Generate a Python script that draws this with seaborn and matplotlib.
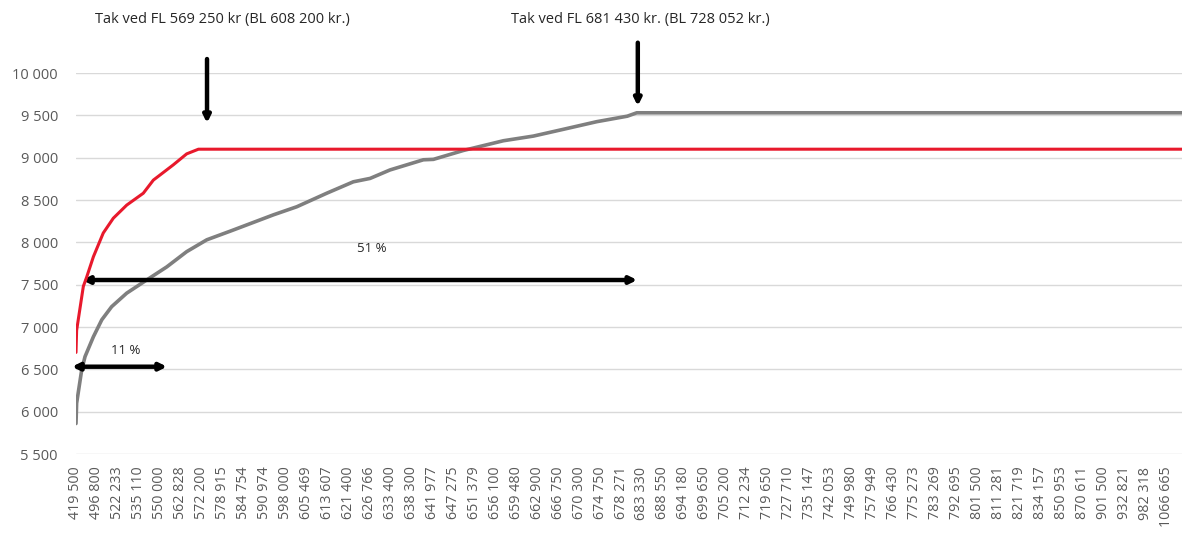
import pandas as pd
import matplotlib
matplotlib.use("Agg")
import matplotlib.pyplot as plt
import seaborn as sns

# Category labels on the x axis (income, every label shown)
x_labels = ["419 500", "496 800", "522 233", "535 110", "550 000", "562 828", "572 200",
	"578 915", "584 754", "590 974", "598 000", "605 469", "613 607", "621 400",
	"626 766", "633 400", "638 300", "641 977", "647 275", "651 379", "656 100",
	"659 480", "662 900", "666 750", "670 300", "674 750", "678 271", "683 330",
	"688 550", "694 180", "699 650", "705 200", "712 234", "719 650", "727 710",
	"735 147", "742 053", "749 980", "757 949", "766 430", "775 273", "783 269",
	"792 695", "801 500", "811 281", "821 719", "834 157", "850 953", "870 611",
	"901 500", "932 821", "982 318", "1066 665"]

# Red series (position along category axis, value)
red_pos = [0, 0.03, 0.35, 0.51, 0.83, 1.3, 1.78, 2.42, 3.21, 3.69, 4.64, 5.28, 5.84, 52.8]
red_val = [6700, 6960, 7480, 7590, 7830, 8110, 8285, 8440, 8580, 8735, 8915, 9045, 9100, 9100]

# Gray series
gray_pos = [0, 0.03, 0.27, 0.43, 0.83, 1.23, 1.7, 2.42, 3.37, 4.33, 5.28, 6.24, 7.39,
	9.42, 10.53, 11.96, 13.23, 14.03, 14.98, 16.57, 17.05, 18.48, 20.39, 21.82,
	23.25, 24.84, 26.3, 26.75, 52.8]
gray_val = [5860, 6100, 6490, 6650, 6885, 7085, 7240, 7400, 7555, 7710, 7890, 8030, 8135,
	8325, 8420, 8580, 8715, 8755, 8855, 8975, 8980, 9085, 9200, 9255,
	9335, 9425, 9490, 9530, 9530]

y_ticks = [5500, 6000, 6500, 7000, 7500, 8000, 8500, 9000, 9500, 10000]

sns.set_style("white")
plt.rcParams['font.family'] = ['Open Sans', 'DejaVu Sans']

fig = plt.figure(figsize=(11.82, 5.34), dpi=100)
ax = fig.add_axes([76/1182, (534-454)/534, (1182-76)/1182, (454-73)/534])

red = pd.DataFrame({"pos": red_pos, "val": red_val})
gray = pd.DataFrame({"pos": gray_pos, "val": gray_val})
sns.lineplot(x="pos", y="val", data=gray, color="#7f7f7f", linewidth=2.6, ax=ax, zorder=3)
sns.lineplot(x="pos", y="val", data=red, color="#e8192c", linewidth=2.2, ax=ax, zorder=4)

ax.set_xlim(0, 52.76)
ax.set_ylim(5500, 10000)
ax.set_yticks(y_ticks)
ax.set_yticklabels([f"{v:,}".replace(",", " ") for v in y_ticks], fontsize=10.5, color="#595959")
ax.set_xticks(range(len(x_labels)))
ax.set_xticklabels(x_labels, rotation=90, fontsize=10.3, color="#595959")
ax.tick_params(axis="y", length=0, pad=13)
ax.tick_params(axis="x", length=0, pad=9)
ax.grid(axis="y", color="#d9d9d9", linewidth=1)
ax.grid(axis="x", visible=False)
for s in ax.spines.values():
	s.set_visible(False)
ax.set_xlabel(None)
ax.set_ylabel(None)

# Annotations
arrow = dict(arrowstyle="-|>", color="black", lw=3.2, mutation_scale=10, shrinkA=0, shrinkB=0)
darrow = dict(arrowstyle="<|-|>", color="black", lw=3.2, mutation_scale=10, shrinkA=0, shrinkB=0)
ax.annotate("", xy=(6.25, 9409), xytext=(6.25, 10165), arrowprops=arrow, annotation_clip=False)
ax.annotate("", xy=(26.8, 9610), xytext=(26.8, 10358), arrowprops=arrow, annotation_clip=False)
ax.annotate("", xy=(26.77, 7555), xytext=(0.29, 7555), arrowprops=darrow, annotation_clip=False)
ax.annotate("", xy=(4.34, 6531), xytext=(-0.19, 6531), arrowprops=darrow, annotation_clip=False)
fig.text(222/1182, 1-20/534, "Tak ved FL 569 250 kr (BL 608 200 kr.)", ha="center", va="center", fontsize=10.5)
fig.text(640/1182, 1-20/534, "Tak ved FL 681 430 kr. (BL 728 052 kr.)", ha="center", va="center", fontsize=10.5)
fig.text(372/1182, 1-248/534, "51 %", ha="center", va="center", fontsize=9.5)
fig.text(126/1182, 1-351/534, "11 %", ha="center", va="center", fontsize=9.5)

fig.savefig("out.png", dpi=100)
